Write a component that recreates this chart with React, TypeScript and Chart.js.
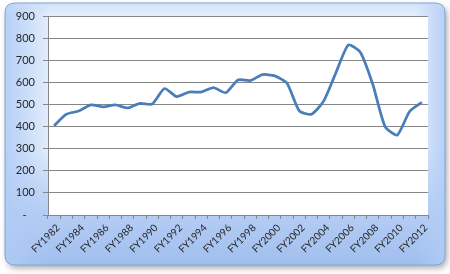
import React, { useEffect, useRef } from "react";
import { Chart, registerables } from "chart.js";

Chart.register(...registerables);

const categories: string[] = [
  "FY1982", "FY1983", "FY1984", "FY1985", "FY1986", "FY1987", "FY1988", "FY1989",
  "FY1990", "FY1991", "FY1992", "FY1993", "FY1994", "FY1995", "FY1996", "FY1997",
  "FY1998", "FY1999", "FY2000", "FY2001", "FY2002", "FY2003", "FY2004", "FY2005",
  "FY2006", "FY2007", "FY2008", "FY2009", "FY2010", "FY2011", "FY2012",
];

const seriesValues: number[] = [
  404, 456, 470, 498, 489, 498, 484, 505,
  502, 572, 535, 556, 556, 576, 553, 611,
  608, 635, 629, 596, 471, 456, 516, 645,
  769, 734, 590, 400, 362, 468, 510,
];

const yTicks: number[] = [0, 100, 200, 300, 400, 500, 600, 700, 800, 900];

const FONT = "Lato, 'Open Sans', sans-serif";

const backgroundPlugin = {
  id: "bgPanel",
  beforeDraw(chart: any) {
    const { ctx, chartArea } = chart;
    const x0 = 5, y0 = 3, x1 = 445, y1 = 265, r = 10;
    const path = () => {
      ctx.beginPath();
      ctx.moveTo(x0 + r, y0);
      ctx.lineTo(x1 - r, y0);
      ctx.quadraticCurveTo(x1, y0, x1, y0 + r);
      ctx.lineTo(x1, y1 - r);
      ctx.quadraticCurveTo(x1, y1, x1 - r, y1);
      ctx.lineTo(x0 + r, y1);
      ctx.quadraticCurveTo(x0, y1, x0, y1 - r);
      ctx.lineTo(x0, y0 + r);
      ctx.quadraticCurveTo(x0, y0, x0 + r, y0);
      ctx.closePath();
    };
    ctx.save();
    ctx.shadowColor = "rgba(0,0,0,0.35)";
    ctx.shadowBlur = 6;
    ctx.shadowOffsetX = 2;
    ctx.shadowOffsetY = 3;
    path();
    ctx.fillStyle = "#E3EDFC";
    ctx.fill();
    ctx.restore();

    ctx.save();
    path();
    ctx.clip();
    let g = ctx.createLinearGradient(0, 150, 0, y1);
    g.addColorStop(0, "rgba(166,195,240,0)");
    g.addColorStop(0.55, "rgba(172,199,242,0.85)");
    g.addColorStop(1, "rgba(160,190,238,1)");
    ctx.fillStyle = g;
    ctx.fillRect(x0, y0, x1 - x0, y1 - y0);
    g = ctx.createLinearGradient(x0, 0, x0 + 45, 0);
    g.addColorStop(0, "rgba(176,204,245,0.9)");
    g.addColorStop(1, "rgba(176,204,245,0)");
    ctx.fillStyle = g;
    ctx.fillRect(x0, y0, 45, y1 - y0);
    g = ctx.createLinearGradient(x1, 0, x1 - 30, 0);
    g.addColorStop(0, "rgba(176,204,245,0.9)");
    g.addColorStop(1, "rgba(176,204,245,0)");
    ctx.fillStyle = g;
    ctx.fillRect(x1 - 30, y0, 30, y1 - y0);
    g = ctx.createLinearGradient(0, y0, 0, y0 + 12);
    g.addColorStop(0, "rgba(200,218,247,0.6)");
    g.addColorStop(1, "rgba(200,218,247,0)");
    ctx.fillStyle = g;
    ctx.fillRect(x0, y0, x1 - x0, 12);
    ctx.restore();

    ctx.save();
    path();
    ctx.lineWidth = 1;
    ctx.strokeStyle = "#7FA6DA";
    ctx.stroke();
    ctx.restore();

    ctx.save();
    ctx.fillStyle = "#FFFFFF";
    ctx.fillRect(chartArea.left, chartArea.top, chartArea.right - chartArea.left, chartArea.bottom - chartArea.top);
    ctx.restore();
  },
};

export default function App() {
  const ref = useRef<HTMLCanvasElement | null>(null);

  useEffect(() => {
    if (!ref.current) return;
    const chart = new Chart(ref.current, {
      type: "line",
      data: {
        labels: categories,
        datasets: [
          {
            data: seriesValues,
            borderColor: "#4A7EBB",
            borderWidth: 2.75,
            pointRadius: 0,
            tension: 0.2,
            fill: false,
          },
        ],
      },
      options: {
        animation: false,
        responsive: false,
        maintainAspectRatio: false,
        layout: { padding: { top: 16, right: 22, bottom: 0, left: 0 } },
        plugins: {
          legend: { display: false },
          tooltip: { enabled: false },
        },
        scales: {
          x: {
            type: "category",
            offset: true,
            afterFit: (s: any) => {
              s.height = 59;
            },
            grid: {
              offset: true,
              drawOnChartArea: false,
              drawTicks: true,
              tickLength: 4,
              color: "#868686",
            },
            border: { display: true, color: "#868686", width: 1 },
            ticks: {
              autoSkip: false,
              maxRotation: 45,
              minRotation: 45,
              padding: 3,
              labelOffset: 4,
              color: "#262626",
              font: { family: FONT, size: 10 },
              callback: (_v: any, i: number) => (i % 2 === 0 ? categories[i] : ""),
            },
          },
          y: {
            min: 0,
            max: 900,
            afterFit: (s: any) => {
              s.width = 48;
            },
            afterBuildTicks: (s: any) => {
              s.ticks = yTicks.map((v) => ({ value: v }));
            },
            grid: {
              color: "#868686",
              tickLength: 5,
              drawTicks: true,
            },
            border: { display: true, color: "#868686", width: 1 },
            ticks: {
              padding: 8,
              color: "#262626",
              font: { family: FONT, size: 11 },
              callback: (v: any) => (Number(v) === 0 ? "-   " : String(v)),
            },
          },
        },
      },
      plugins: [backgroundPlugin],
    });
    return () => chart.destroy();
  }, []);

  return (
    <div style={{ position: "absolute", left: 0, top: 0, width: 450, height: 274 }}>
      <canvas ref={ref} width={450} height={274} style={{ display: "block" }} />
    </div>
  );
}
